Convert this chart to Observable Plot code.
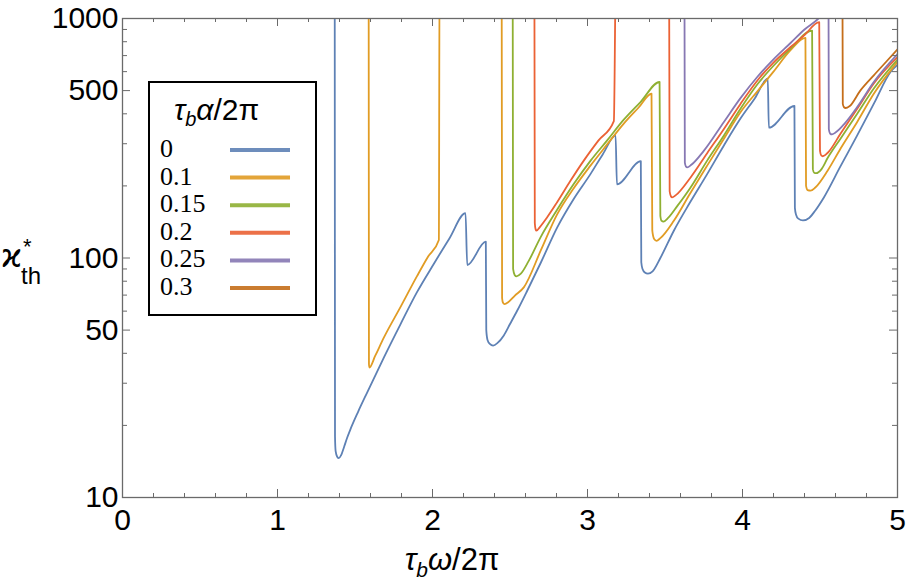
<!DOCTYPE html>
<html><head><meta charset="utf-8">
<script src="https://cdn.jsdelivr.net/npm/d3@7"></script>
<script src="https://cdn.jsdelivr.net/npm/@observablehq/plot@0.6"></script>
<style>body{margin:0;background:#fff}</style>
</head><body><div id="chart"></div>
<script>
// ---- data ----
const alphaLabels = ["0", "0.1", "0.15", "0.2", "0.25", "0.3"];
const colors = ["#5E81B5", "#E19C24", "#8FB032", "#EB6235", "#8778B3", "#C56E1A"];
const xMajor = [0, 1, 2, 3, 4, 5];
const xMinor = [0.2,0.4,0.6,0.8,1.2,1.4,1.6,1.8,2.2,2.4,2.6,2.8,3.2,3.4,3.6,3.8,4.2,4.4,4.6,4.8];
const yMajor = [10, 50, 100, 500, 1000];
const yMinor = [20,30,40,60,70,80,90,200,300,400,600,700,800,900];

// [x, chi] pairs per alpha; values above 1000 run off the top of the frame
const s0 = [[1.369,2000],[1.371,18],[1.375,15.6],[1.385,14.8],[1.396,14.6],[1.41,15.0],[1.43,16.3],[1.45,17.8],[1.471,19.3],[1.52,22.8],[1.579,27.5],[1.686,38.4],[1.794,53],[1.9,72],[2.008,94.4],[2.11,121],[2.213,154],[2.224,93.5],[2.344,117],[2.347,50],[2.355,45.5],[2.37,43.8],[2.391,43.1],[2.42,44.2],[2.46,47.5],[2.5,53],[2.546,60.2],[2.611,73],[2.70,96],[2.804,134],[2.91,176],[3.019,224],[3.10,272],[3.181,325],[3.19,203],[3.344,253.6],[3.347,96],[3.355,90],[3.37,87],[3.39,86],[3.42,88],[3.47,100],[3.557,130],[3.66,170],[3.772,224],[3.88,295],[3.987,382],[4.08,465],[4.163,561],[4.17,350],[4.335,432],[4.338,162],[4.345,152],[4.36,146],[4.39,143.5],[4.43,147],[4.47,158],[4.525,179],[4.63,240],[4.74,325],[4.85,444],[4.955,598],[5,640]];
const s1 = [[1.588,2000],[1.590,36],[1.593,34.9],[1.63,39],[1.686,46.5],[1.794,62.5],[1.9,84],[1.97,101],[2.041,119],[2.046,2000],[2.446,2000],[2.449,68],[2.455,65],[2.465,64.2],[2.49,65.5],[2.53,69.5],[2.589,75.4],[2.70,108],[2.804,152],[2.91,195],[3.019,243],[3.127,298],[3.234,364],[3.33,425],[3.413,485],[3.418,130],[3.43,120],[3.445,118],[3.47,121],[3.557,143],[3.66,185],[3.772,243],[3.88,315],[3.987,406],[4.1,500],[4.2,600],[4.31,737],[4.406,830],[4.41,200],[4.42,192],[4.439,191],[4.47,197],[4.55,232],[4.632,286],[4.74,370],[4.847,485],[5,659]];
const s2 = [[2.517,2000],[2.52,90],[2.53,85],[2.542,83.8],[2.57,86],[2.62,97],[2.697,122],[2.804,159],[2.912,204],[3.02,255],[3.127,310],[3.234,378],[3.342,448],[3.465,543],[3.47,150],[3.478,143],[3.49,142],[3.52,147],[3.58,165],[3.665,197],[3.772,255],[3.88,325],[3.987,420],[4.1,535],[4.2,635],[4.31,749],[4.449,890],[4.454,235],[4.462,227],[4.475,226],[4.51,235],[4.55,262],[4.632,315],[4.74,400],[4.847,510],[5,674]];
const s3 = [[2.657,2000],[2.66,140],[2.665,132],[2.671,130],[2.69,134],[2.74,148],[2.804,171],[2.89,210],[2.976,255],[3.07,309],[3.17,373],[3.185,2000],[3.526,2000],[3.53,190],[3.538,181],[3.546,179],[3.57,183],[3.665,217],[3.772,274],[3.88,346],[3.987,440],[4.1,555],[4.2,655],[4.31,760],[4.40,853],[4.495,965],[4.50,280],[4.508,268],[4.518,266],[4.55,275],[4.632,330],[4.74,420],[4.847,535],[5,690]];
const s4 = [[3.625,2000],[3.628,250],[3.635,241],[3.643,239],[3.67,245],[3.75,280],[3.88,370],[3.987,465],[4.095,570],[4.2,675],[4.31,790],[4.40,900],[4.49,1000],[4.52,1050],[4.554,2000],[4.557,345],[4.565,331],[4.577,328],[4.60,334],[4.66,365],[4.74,427],[4.847,543],[5,710]];
const s5 = [[4.644,2000],[4.647,440],[4.655,426],[4.665,423],[4.69,430],[4.76,500],[4.847,579],[4.93,663],[5,744]];
const series = [s0, s1, s2, s3, s4, s5];

// ---- layout ----
const W = 907, H = 581;
const mL = 122, mR = 10, mT = 18, mB = 84;
const fw = W - mL - mR, fh = H - mT - mB;
const axisColor = "#6a6a6a";

const rows = [];
series.forEach((s, i) => s.forEach(([x, v]) => rows.push({x, v, a: alphaLabels[i]})));

const chart = Plot.plot({
  width: W, height: H,
  marginLeft: mL, marginRight: mR, marginTop: mT, marginBottom: mB,
  style: {fontFamily: "'Liberation Sans', Arial, sans-serif", fontSize: "30px", background: "#fff", color: "#000", overflow: "visible"},
  x: {domain: [0, 5], label: null},
  y: {type: "log", domain: [10, 1000], label: null},
  color: {domain: alphaLabels, range: colors},
  marks: [
    Plot.line(rows, {x: "x", y: "v", z: "a", stroke: "a", strokeWidth: 1.8, curve: "monotone-x", clip: true}),
    Plot.frame({stroke: axisColor, strokeWidth: 1.3}),
    Plot.tickX(xMajor, {x: d => d, stroke: axisColor, insetTop: fh - 8}),
    Plot.tickX(xMajor, {x: d => d, stroke: axisColor, insetBottom: fh - 8}),
    Plot.tickX(xMinor, {x: d => d, stroke: axisColor, insetTop: fh - 4}),
    Plot.tickX(xMinor, {x: d => d, stroke: axisColor, insetBottom: fh - 4}),
    Plot.tickY(yMajor, {y: d => d, stroke: axisColor, insetRight: fw - 8}),
    Plot.tickY(yMajor, {y: d => d, stroke: axisColor, insetLeft: fw - 8}),
    Plot.tickY(yMinor, {y: d => d, stroke: axisColor, insetRight: fw - 5}),
    Plot.tickY(yMinor, {y: d => d, stroke: axisColor, insetLeft: fw - 5}),
    Plot.axisX(xMajor, {tickSize: 0, tickPadding: 11, fontSize: 30, label: null, tickFormat: d => String(d)}),
    Plot.axisY(yMajor, {tickSize: 0, tickPadding: 4, fontSize: 30, label: null, tickFormat: d => String(d)})
  ]
});
document.getElementById("chart").append(chart);

const svg = d3.select(chart);
const sans = "'Liberation Sans', Arial, sans-serif";

// y-axis label
const yg = svg.append("g").attr("text-anchor", "start").attr("fill", "#000");
yg.append("text").attr("x", 1).attr("y", 267).attr("font-family", "'DejaVu Sans', sans-serif")
  .attr("font-size", 32).text("ϰ");
yg.append("text").attr("x", 23).attr("y", 254).attr("font-family", sans)
  .attr("font-size", 22).text("*");
yg.append("text").attr("x", 21).attr("y", 284).attr("font-family", sans)
  .attr("font-size", 24).text("th");

// x-axis label
const xl = svg.append("text").attr("x", 452).attr("y", 570).attr("text-anchor", "middle")
  .attr("font-family", sans).attr("font-size", 31).attr("fill", "#000");
xl.append("tspan").attr("font-style", "italic").text("τ");
xl.append("tspan").attr("font-style", "italic").attr("font-size", 21).attr("dy", 7).text("b");
xl.append("tspan").attr("font-style", "italic").attr("dy", -7).text("ω");
xl.append("tspan").text("/2π");

// legend
const lg = svg.append("g").attr("text-anchor", "start");
lg.append("rect").attr("x", 149).attr("y", 82).attr("width", 167).attr("height", 233)
  .attr("fill", "#fff").attr("stroke", "#000").attr("stroke-width", 2);
const lt = lg.append("text").attr("x", 174).attr("y", 120).attr("font-family", sans)
  .attr("font-size", 30).attr("fill", "#000");
lt.append("tspan").attr("font-style", "italic").text("τ");
lt.append("tspan").attr("font-style", "italic").attr("font-size", 20).attr("dy", 6).text("b");
lt.append("tspan").attr("font-style", "italic").attr("dy", -6).text("α");
lt.append("tspan").text("/2π");
alphaLabels.forEach((lab, i) => {
  const base = 157 + 27.6 * i;
  lg.append("text").attr("x", 160).attr("y", base).attr("font-family", "'Liberation Serif', 'Times New Roman', serif")
    .attr("font-size", 26).attr("fill", "#000").text(lab);
  lg.append("line").attr("x1", 230).attr("x2", 290).attr("y1", base - 7).attr("y2", base - 7)
    .attr("stroke", colors[i]).attr("stroke-width", 4).attr("opacity", 0.9);
});
</script>
</body></html>
